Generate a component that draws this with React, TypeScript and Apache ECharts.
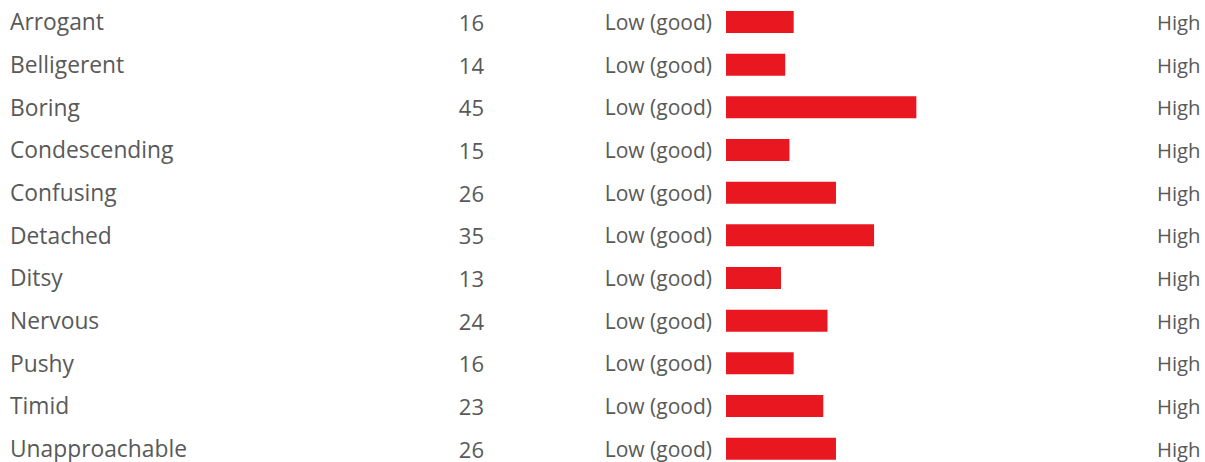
import React, { useEffect, useRef } from "react";
import * as echarts from "echarts";

const categories = [
  "Arrogant",
  "Belligerent",
  "Boring",
  "Condescending",
  "Confusing",
  "Detached",
  "Ditsy",
  "Nervous",
  "Pushy",
  "Timid",
  "Unapproachable",
];
const values = [16, 14, 45, 15, 26, 35, 13, 24, 16, 23, 26];
const lowLabel = "Low (good)";
const highLabel = "High";

export default function App() {
  const ref = useRef<HTMLDivElement>(null);
  useEffect(() => {
    document.body.style.margin = "0";
    document.body.style.overflow = "hidden";
    const chart = echarts.init(ref.current!, null, { renderer: "svg" });
    const font = "'Open Sans', sans-serif";
    const textColor = "#595959";
    const baseAxis = {
      type: "category" as const,
      data: categories,
      inverse: true,
      axisLine: { show: false },
      axisTick: { show: false },
      splitLine: { show: false },
    };
    chart.setOption({
      animation: false,
      grid: { left: 726, right: 56, top: 0.65, bottom: 0, containLabel: false },
      xAxis: {
        type: "value",
        min: 0,
        max: 100,
        show: false,
      },
      yAxis: [
        {
          ...baseAxis,
          position: "left",
          axisLabel: {
            margin: 14,
            fontSize: 21,
            fontFamily: font,
            color: textColor,
            padding: [0, 0, 5, 0],
            formatter: () => lowLabel,
          },
        },
        {
          ...baseAxis,
          position: "left",
          offset: 242,
          axisLabel: {
            margin: 0,
            fontSize: 22,
            fontFamily: font,
            color: textColor,
            formatter: (_v: string, i: number) => String(values[i]),
          },
        },
        {
          ...baseAxis,
          position: "left",
          axisLabel: {
            margin: 716,
            align: "left",
            fontSize: 22.8,
            fontFamily: font,
            color: textColor,
          },
        },
        {
          ...baseAxis,
          position: "right",
          axisLabel: {
            margin: 8,
            align: "left",
            fontSize: 20.3,
            fontFamily: font,
            color: textColor,
            padding: [0, 0, 5, 0],
            formatter: () => highLabel,
          },
        },
      ],
      series: [
        {
          type: "bar",
          yAxisIndex: 0,
          data: values,
          barWidth: 22,
          itemStyle: { color: "#E9171F" },
        },
      ],
    });
    return () => chart.dispose();
  }, []);
  return <div ref={ref} style={{ width: 1205, height: 470 }} />;
}
